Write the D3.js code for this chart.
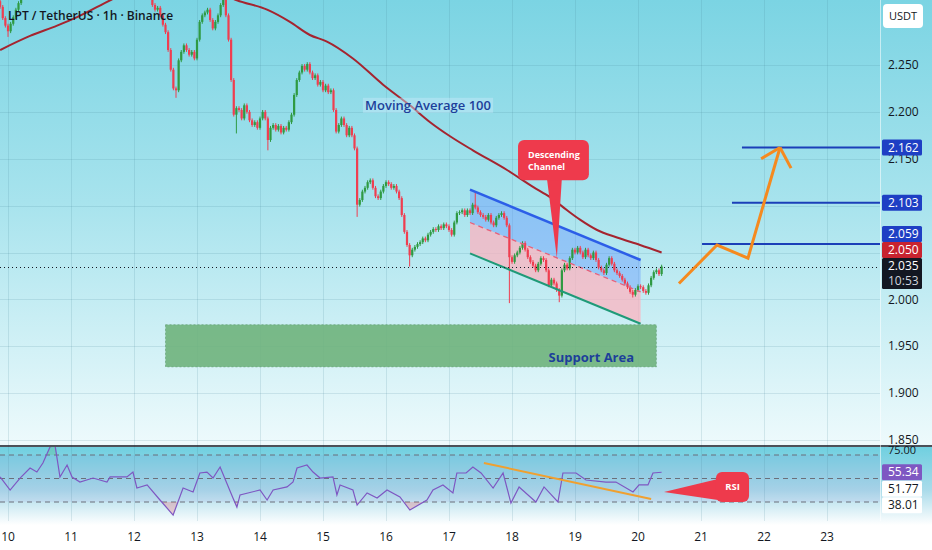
<!DOCTYPE html>
<html><head><meta charset="utf-8">
<script src="https://cdn.jsdelivr.net/npm/d3@7"></script>
<style>html,body{margin:0;padding:0;background:#fff;overflow:hidden}svg{display:block}</style>
</head><body><svg id="c" width="932" height="550"></svg>
<script>
// ---------------- DATA ----------------
const titleText = "LPT / TetherUS · 1h · Binance";
const startHour = -3;           // hours from "10" 00:00
const firstOpen = 2.318;
const closes = [
/* -3 */ 2.312, 2.300, 2.292, 2.286, 2.294, 2.301, 2.309, 2.316, 2.326, 2.334,
/*  7 */ 2.340, 2.345, 2.352, 2.348, 2.356, 2.362, 2.358, 2.366, 2.371, 2.365,
/* 17 */ 2.372, 2.378, 2.383, 2.376, 2.381, 2.388, 2.392, 2.386, 2.380, 2.384,
/* 27 */ 2.378, 2.372, 2.376, 2.369, 2.374, 2.381, 2.385, 2.379, 2.383, 2.390,
/* 37 */ 2.386, 2.380, 2.374, 2.378, 2.371, 2.366, 2.370, 2.362, 2.357, 2.361,
/* 47 */ 2.354, 2.349, 2.352, 2.345, 2.340, 2.336, 2.331, 2.322, 2.314, 2.309,
/* 57 */ 2.311, 2.303, 2.293, 2.285, 2.266, 2.245, 2.225, 2.223, 2.255, 2.264,
/* 67 */ 2.271, 2.266, 2.261, 2.264, 2.257, 2.277, 2.296, 2.303, 2.306, 2.309,
/* 77 */ 2.298, 2.289, 2.296, 2.303, 2.314, 2.321, 2.303, 2.277, 2.234, 2.197,
/* 87 */ 2.204, 2.202, 2.193, 2.207, 2.200, 2.191, 2.186, 2.189, 2.183, 2.193,
/* 97 */ 2.200, 2.193, 2.170, 2.183, 2.186, 2.181, 2.185, 2.178, 2.183, 2.181,
/*107 */ 2.189, 2.197, 2.218, 2.234, 2.242, 2.249, 2.245, 2.251, 2.242, 2.236,
/*117 */ 2.239, 2.229, 2.232, 2.223, 2.228, 2.221, 2.223, 2.202, 2.179, 2.186,
/*127 */ 2.193, 2.186, 2.175, 2.183, 2.175, 2.161, 2.101, 2.106, 2.115, 2.119,
/*137 */ 2.125, 2.127, 2.119, 2.110, 2.108, 2.115, 2.121, 2.125, 2.123, 2.119,
/*147 */ 2.121, 2.115, 2.108, 2.090, 2.072, 2.058, 2.047, 2.053, 2.056, 2.059,
/*157 */ 2.061, 2.065, 2.063, 2.069, 2.072, 2.075, 2.074, 2.078, 2.076, 2.080,
/*167 */ 2.078, 2.074, 2.069, 2.082, 2.092, 2.093, 2.095, 2.090, 2.095, 2.092,
/*177 */ 2.101, 2.098, 2.093, 2.090, 2.088, 2.085, 2.090, 2.082, 2.079, 2.087,
/*187 */ 2.090, 2.092, 2.087, 2.079, 2.045, 2.040, 2.047, 2.050, 2.055, 2.060,
/*197 */ 2.053, 2.045, 2.040, 2.036, 2.031, 2.038, 2.044, 2.042, 2.031, 2.015,
/*207 */ 2.021, 2.017, 2.010, 2.004, 2.031, 2.037, 2.033, 2.044, 2.053, 2.050,
/*217 */ 2.055, 2.050, 2.045, 2.053, 2.047, 2.044, 2.050, 2.042, 2.034, 2.031,
/*227 */ 2.028, 2.037, 2.044, 2.038, 2.031, 2.028, 2.025, 2.021, 2.017, 2.013,
/*237 */ 2.008, 2.005, 2.010, 2.014, 2.013, 2.009, 2.007, 2.015, 2.023, 2.029,
/*247 */ 2.031, 2.027, 2.035
];
const wickPad = 0.002;
// notable wicks: [hour, high, low]
const wickExtremes = [[0,null,2.280],[64,null,2.215],[82,2.326,null],[87,null,2.177],[99,null,2.159],
  [133,null,2.088],[153,null,2.035],[178,2.115,null],[191,null,1.996],[210,null,1.997],[238,null,2.002]];

const maHours  = [-3, 8.4, 18.7, 26.3, 38.9, 50, 62, 75, 87.2, 98.7, 107.4, 115, 121.5, 131.4, 142.9, 153.1, 160.8, 168.4, 177.1, 190.1, 200, 206.5, 213, 217.9, 224.4, 232, 240.8, 249];
const maValues = [2.266, 2.281, 2.292, 2.301, 2.319, 2.334, 2.340, 2.334, 2.319, 2.309, 2.296, 2.282, 2.275, 2.257, 2.229, 2.207, 2.189, 2.174, 2.159, 2.138, 2.120, 2.109, 2.095, 2.085, 2.074, 2.066, 2.058, 2.050];

const rsiHours  = [-3, 0.8, 4.6, 8.4, 11, 13.3, 16, 17.9, 19.8, 22.5, 24.4, 27.4, 32.4, 37.7, 38.9, 45.3, 47.6, 49.1, 53, 57.9, 62.9, 66.7, 70.5, 73.1, 75.8, 78.1, 80.8, 85.7, 87.2, 88.4, 96, 98.7, 101, 106.3, 108.6, 110.1, 113.9, 116.2, 118.9, 123.8, 125.3, 126.5, 131.4, 133, 136.8, 140.6, 144.4, 149.3, 153.1, 159.6, 161.9, 165.7, 169.5, 171, 174.5, 177.1, 180.2, 184.8, 188.6, 191.6, 194.7, 201.1, 204.2, 209.5, 211.4, 216.4, 220.2, 227.8, 231.6, 238.1, 240.4, 243.8, 245.7, 249];
const rsiValues = [51.3, 40.2, 50.4, 58.9, 55.5, 63.2, 76.8, 78.5, 51.3, 61.5, 51.3, 47.0, 50.4, 47.0, 51.3, 51.3, 55.5, 41.9, 44.5, 31.7, 18.9, 41.9, 38.5, 54.7, 55.5, 50.4, 59.8, 33.4, 25.7, 36.0, 40.2, 31.7, 40.2, 42.8, 47.0, 58.9, 61.5, 55.5, 50.4, 51.3, 36.0, 44.5, 40.2, 27.4, 37.7, 33.4, 40.2, 34.3, 23.2, 31.7, 40.2, 44.5, 37.7, 54.7, 54.7, 59.8, 54.7, 41.9, 54.7, 29.1, 42.8, 30.0, 42.8, 30.0, 54.7, 54.7, 48.7, 47.0, 47.0, 38.5, 44.5, 44.5, 54.7, 55.34];
const rsiBands = [70, 50, 30];

const dayLabels = [10,11,12,13,14,15,16,17,18,19,20,21,22,23];
const priceTicks = [1.85, 1.90, 1.95, 2.00, 2.05, 2.10, 2.15, 2.20, 2.25];

const lastPrice = 2.035, lastTime = "10:53", maLast = 2.050;
const targetLevels = [2.059, 2.103, 2.162];
const targetStartHours = [264.4, 275.8, 279.6];

const channelHours = [176, 241];
const channelUpper = [2.117, 2.042];
const channelMid   = [2.082, 2.008];
const channelLower = [2.049, 1.974];

const supportHours = [60, 247];
const supportPrices = [1.928, 1.973];
const supportLabelHour = 238.5, supportLabelPrice = 1.933;

const projHours  = [255.6, 270.1, 281.9, 294.1];
const projPrices = [2.017, 2.058, 2.044, 2.162];
const arrowHeadHours = [286.9, 298.3];
const arrowHeadPrices = [2.150, 2.140];

const rsiTrendHours = [181.3, 245];
const rsiTrendValues = [63.2, 32.6];
const rsiAxisValues = [75.00, 55.34, 51.77, 38.01];

// ---------------- LAYOUT ----------------
const W = 932, H = 550, plotR = 880, mainBottom = 446, rsiTop = 447, rsiBottom = 521;
const x = d3.scaleLinear().domain([0, 24]).range([8, 71]);
const y = d3.scaleLinear().domain([1.85, 2.25]).range([440, 65]);
const r = d3.scaleLinear().domain([30, 70]).range([502, 455]);

const svg = d3.select('#c');
const defs = svg.append('defs');
function grad(id, stops){ const g = defs.append('linearGradient').attr('id',id).attr('x1',0).attr('y1',0).attr('x2',0).attr('y2',1);
  stops.forEach(([o,c])=>g.append('stop').attr('offset',o).attr('stop-color',c)); }
grad('gMain', [[0,'#7bd4e3'],[0.45,'#a7e3ed'],[1,'#eefafc']]);
grad('gRsi', [[0,'#70d0e0'],[0.55,'#a9dbea'],[1,'#ffffff']]);
defs.append('clipPath').attr('id','clipMain').append('rect').attr('x',0).attr('y',0).attr('width',plotR).attr('height',mainBottom);
defs.append('clipPath').attr('id','clipRsi').append('rect').attr('x',0).attr('y',rsiTop).attr('width',plotR).attr('height',rsiBottom-rsiTop);
defs.append('clipPath').attr('id','clipLow').append('rect').attr('x',0).attr('y',r(30)).attr('width',plotR).attr('height',rsiBottom-r(30));
defs.append('clipPath').attr('id','clipHigh').append('rect').attr('x',0).attr('y',rsiTop).attr('width',plotR).attr('height',r(70)-rsiTop);

svg.append('rect').attr('width',W).attr('height',H).attr('fill','#fff');
svg.append('rect').attr('x',0).attr('y',0).attr('width',W).attr('height',mainBottom).attr('fill','url(#gMain)');
svg.append('rect').attr('x',0).attr('y',rsiTop).attr('width',W).attr('height',78).attr('fill','url(#gRsi)');

// grid
const grid = svg.append('g').attr('stroke','rgba(70,130,150,0.16)').attr('stroke-width',1);
dayLabels.forEach(d=>{ const xx = Math.round(x((d-10)*24))+0.5; grid.append('line').attr('x1',xx).attr('x2',xx).attr('y1',0).attr('y2',rsiBottom); });
priceTicks.forEach(p=>{ const yy = Math.round(y(p))+0.5; grid.append('line').attr('x1',0).attr('x2',plotR).attr('y1',yy).attr('y2',yy); });

// ---------- main pane ----------
const main = svg.append('g').attr('clip-path','url(#clipMain)');

// support area
main.append('rect').attr('x',x(supportHours[0])).attr('y',y(supportPrices[1]))
  .attr('width',x(supportHours[1])-x(supportHours[0])).attr('height',y(supportPrices[0])-y(supportPrices[1]))
  .attr('fill','#6fb27c').attr('fill-opacity',0.9).attr('stroke','#4f8f5f').attr('stroke-opacity',0.5).attr('stroke-dasharray','2,2');
main.append('text').attr('x',x(supportLabelHour)).attr('y',y(supportLabelPrice)).attr('text-anchor','end')
  .attr('font-family','Open Sans').attr('font-weight',700).attr('font-size',13).attr('fill','#1d3f9a').text('Support Area');

// channel fills
const cx0 = x(channelHours[0]), cx1 = x(channelHours[1]);
main.append('path').attr('d',`M${cx0},${y(channelUpper[0])}L${cx1},${y(channelUpper[1])}L${cx1},${y(channelMid[1])}L${cx0},${y(channelMid[0])}Z`)
  .attr('fill','rgb(100,150,255)').attr('fill-opacity',0.42);
main.append('path').attr('d',`M${cx0},${y(channelMid[0])}L${cx1},${y(channelMid[1])}L${cx1},${y(channelLower[1])}L${cx0},${y(channelLower[0])}Z`)
  .attr('fill','rgb(255,178,190)').attr('fill-opacity',0.72);

// candles
const wickMap = new Map(wickExtremes.map(w=>[w[0],w]));
const candles = closes.map((c,i)=>{ const t = startHour+i; const o = i ? closes[i-1] : firstOpen;
  let hi = Math.max(o,c)+wickPad, lo = Math.min(o,c)-wickPad; const w = wickMap.get(t);
  if (w){ if (w[1]!=null) hi = w[1]; if (w[2]!=null) lo = w[2]; }
  return {t,o,c,hi,lo}; });
const cg = main.append('g');
candles.forEach(d=>{ const col = d.c >= d.o ? '#2f9a42' : '#ef3e50'; const xx = x(d.t);
  cg.append('line').attr('x1',xx).attr('x2',xx).attr('y1',y(d.hi)).attr('y2',y(d.lo)).attr('stroke',col).attr('stroke-width',1);
  const top = y(Math.max(d.o,d.c)), bot = y(Math.min(d.o,d.c));
  cg.append('rect').attr('x',xx-1.1).attr('width',2.2).attr('y',top).attr('height',Math.max(0.9,bot-top)).attr('fill',col); });

// channel lines
main.append('line').attr('x1',cx0).attr('x2',cx1).attr('y1',y(channelUpper[0])).attr('y2',y(channelUpper[1])).attr('stroke','#2c5ee8').attr('stroke-width',2.5);
main.append('line').attr('x1',cx0).attr('x2',cx1).attr('y1',y(channelMid[0])).attr('y2',y(channelMid[1])).attr('stroke','#e8607a').attr('stroke-width',1.3).attr('stroke-dasharray','5,4');
main.append('line').attr('x1',cx0).attr('x2',cx1).attr('y1',y(channelLower[0])).attr('y2',y(channelLower[1])).attr('stroke','#1f9a78').attr('stroke-width',2);

// MA100
main.append('path').datum(maHours.map((h,i)=>[h,maValues[i]]))
  .attr('d',d3.line().x(d=>x(d[0])).y(d=>y(d[1])).curve(d3.curveMonotoneX))
  .attr('fill','none').attr('stroke','#a5242f').attr('stroke-width',2);

// MA label
const maLabel = main.append('g');
maLabel.append('rect').attr('x',x(135.2)).attr('y',y(2.215)).attr('width',x(184.8)-x(135.2)).attr('height',y(2.199)-y(2.215))
  .attr('fill','rgba(200,232,250,0.45)');
maLabel.append('text').attr('x',(x(135.2)+x(184.8))/2).attr('y',y(2.207)).attr('dy','0.35em').attr('text-anchor','middle')
  .attr('font-family','Open Sans').attr('font-weight',600).attr('font-size',13).attr('fill','#1d3f9a').text('Moving Average 100');

// last price dotted line
main.append('line').attr('x1',0).attr('x2',plotR).attr('y1',Math.round(y(lastPrice))+0.5).attr('y2',Math.round(y(lastPrice))+0.5)
  .attr('stroke','#131722').attr('stroke-width',1).attr('stroke-dasharray','1,3');

// target lines
targetLevels.forEach((p,i)=>{ main.append('line').attr('x1',x(targetStartHours[i])).attr('x2',plotR).attr('y1',y(p)).attr('y2',y(p))
  .attr('stroke','#1b3fb8').attr('stroke-width',2); });

// projection arrow
const proj = projHours.map((h,i)=>[x(h),y(projPrices[i])]);
main.append('path').attr('d',d3.line()(proj)).attr('fill','none').attr('stroke','#f58a1f').attr('stroke-width',3).attr('stroke-linejoin','miter');
const tip = proj[proj.length-1];
arrowHeadHours.forEach((h,i)=>{ main.append('line').attr('x1',tip[0]).attr('y1',tip[1]).attr('x2',x(h)).attr('y2',y(arrowHeadPrices[i]))
  .attr('stroke','#f58a1f').attr('stroke-width',3).attr('stroke-linecap','butt'); });

// Descending channel callout
const calloutRed = '#ee3a4c';
const bx0 = x(194.3), bx1 = x(221.3), by0 = y(2.170), by1 = y(2.127);
const tipX = x(209.1), tipY = y(2.044);
main.append('path').attr('d',`M${tipX-10},${by1-2}L${tipX+5},${by1-2}L${tipX},${tipY}Z`).attr('fill',calloutRed);
main.append('rect').attr('x',bx0).attr('y',by0).attr('width',bx1-bx0).attr('height',by1-by0).attr('rx',6).attr('fill',calloutRed);
const ctStyle = t=>t.attr('font-family','Open Sans').attr('font-weight',700).attr('font-size',9).attr('fill','#fff');
ctStyle(main.append('text').attr('x',bx0+10).attr('y',by0+18).text('Descending'));
ctStyle(main.append('text').attr('x',bx0+10).attr('y',by0+30).text('Channel'));

// title
svg.append('text').attr('x',8).attr('y',20).attr('font-family','Open Sans').attr('font-size',12).attr('font-weight',600).attr('fill','#131722').text(titleText);

// ---------- RSI pane ----------
const rg = svg.append('g').attr('clip-path','url(#clipRsi)');
rg.append('rect').attr('x',0).attr('y',r(70)).attr('width',plotR).attr('height',r(30)-r(70)).attr('fill','rgba(126,87,194,0.07)');
rsiBands.forEach(v=>{ rg.append('line').attr('x1',0).attr('x2',plotR).attr('y1',r(v)).attr('y2',r(v))
  .attr('stroke','#6b6f7a').attr('stroke-width',1).attr('stroke-dasharray','5,4'); });
const rsiPts = rsiHours.map((h,i)=>[h,rsiValues[i]]);
rg.append('path').datum(rsiPts).attr('clip-path','url(#clipLow)')
  .attr('d',d3.area().x(d=>x(d[0])).y0(r(30)).y1(d=>r(d[1]))).attr('fill','rgba(242,54,69,0.22)');
rg.append('path').datum(rsiPts).attr('clip-path','url(#clipHigh)')
  .attr('d',d3.area().x(d=>x(d[0])).y0(r(70)).y1(d=>r(d[1]))).attr('fill','rgba(76,175,80,0.2)');
rg.append('path').datum(rsiPts).attr('d',d3.line().x(d=>x(d[0])).y(d=>r(d[1]))).attr('fill','none').attr('stroke','#7e57c2').attr('stroke-width',1.2);
rg.append('line').attr('x1',x(rsiTrendHours[0])).attr('y1',r(rsiTrendValues[0])).attr('x2',x(rsiTrendHours[1])).attr('y2',r(rsiTrendValues[1]))
  .attr('stroke','#f0a030').attr('stroke-width',2);
// RSI callout
const rb0 = x(269.7), rb1 = x(282.3), ry0 = r(55.5), ry1 = r(30.0);
const rtipX = x(249.9), rtipY = r(38.5);
rg.append('path').attr('d',`M${rb0+2},${ry0+7}L${rb0+2},${ry1-2}L${rtipX},${rtipY}Z`).attr('fill',calloutRed);
rg.append('rect').attr('x',rb0).attr('y',ry0).attr('width',rb1-rb0).attr('height',ry1-ry0).attr('rx',6).attr('fill',calloutRed);
rg.append('text').attr('x',(rb0+rb1)/2).attr('y',(ry0+ry1)/2).attr('dy','0.35em').attr('text-anchor','middle')
  .attr('font-family','Open Sans').attr('font-weight',700).attr('font-size',9.5).attr('fill','#fff').text('RSI');

// separator between panes
svg.append('line').attr('x1',0).attr('x2',W).attr('y1',mainBottom).attr('y2',mainBottom).attr('stroke','#131722').attr('stroke-width',1.4);
// right axis border
svg.append('line').attr('x1',plotR+0.5).attr('x2',plotR+0.5).attr('y1',0).attr('y2',rsiBottom).attr('stroke','rgba(255,255,255,0.55)').attr('stroke-width',1);

// ---------- price axis ----------
const axF = 'Open Sans';
const ax = svg.append('g').attr('font-family',axF).attr('font-size',12);
function tag(cy, h, fill, lines, color){ ax.append('rect').attr('x',882).attr('y',cy-h/2).attr('width',40).attr('height',h).attr('rx',1.5).attr('fill',fill);
  lines.forEach((l,i)=>ax.append('text').attr('x',888).attr('y',cy-h/2+8+i*15).attr('dy','0.35em').attr('fill',l.c||color).text(l.t)); }
// stacked tags above last price
const lastY = y(lastPrice);
const blackTop = lastY - 8.5;
const maY = Math.min(y(maLast), blackTop - 8);
const t1Y = Math.min(y(targetLevels[0]), maY - 16);
const tagBoxes = [[blackTop, blackTop+31],[maY-8,maY+8],[t1Y-8,t1Y+8],[y(targetLevels[1])-8,y(targetLevels[1])+8],[y(targetLevels[2])-8,y(targetLevels[2])+8]];
// tick labels hidden when their centre falls under a price tag (as the trading platform does)
priceTicks.forEach(p=>{ const yy = y(p); if (tagBoxes.some(b=>yy>b[0]-1 && yy<b[1]+1)) return;
  ax.append('text').attr('x',888).attr('y',yy).attr('dy','0.35em').attr('fill','#131722').text(p.toFixed(3)); });
tag(blackTop+15.5, 31, '#131722', [{t:lastPrice.toFixed(3)},{t:lastTime,c:'#d1d4dc'}], '#ffffff');
tag(maY, 16, '#c8232f', [{t:maLast.toFixed(3)}], '#ffffff');
tag(t1Y, 16, '#1e3fc4', [{t:targetLevels[0].toFixed(3)}], '#ffffff');
tag(y(targetLevels[1]), 16, '#1e3fc4', [{t:targetLevels[1].toFixed(3)}], '#ffffff');
tag(y(targetLevels[2]), 16, '#1e3fc4', [{t:targetLevels[2].toFixed(3)}], '#ffffff');

// USDT box
ax.append('rect').attr('x',883).attr('y',4).attr('width',40).attr('height',24).attr('rx',4).attr('fill','#ffffff');
ax.append('text').attr('x',903).attr('y',16).attr('dy','0.35em').attr('text-anchor','middle').attr('font-size',11).attr('fill','#131722').text('USDT');

// RSI axis labels (stacked to avoid overlap)
let prevY = -1e9;
rsiAxisValues.forEach((v,i)=>{ let yy = Math.max(r(v), prevY + 16.5); prevY = yy;
  if (i===0){ ax.append('text').attr('x',888).attr('y',yy+1).attr('dy','0.35em').attr('font-size',11).attr('fill','#131722').text(v.toFixed(2)); return; }
  const purple = i===1;
  ax.append('rect').attr('x',882).attr('y',yy-8).attr('width',40).attr('height',16).attr('rx',1.5).attr('fill',purple?'#7e57c2':'#ffffff');
  ax.append('text').attr('x',888).attr('y',yy).attr('dy','0.35em').attr('fill',purple?'#ffffff':'#131722').text(v.toFixed(2)); });

// ---------- time axis ----------
const tx = svg.append('g').attr('font-family',axF).attr('font-size',12).attr('fill','#131722');
dayLabels.forEach(d=>{ tx.append('text').attr('x',x((d-10)*24)).attr('y',537).attr('dy','0.35em').attr('text-anchor','middle').text(d); });
</script></body></html>
